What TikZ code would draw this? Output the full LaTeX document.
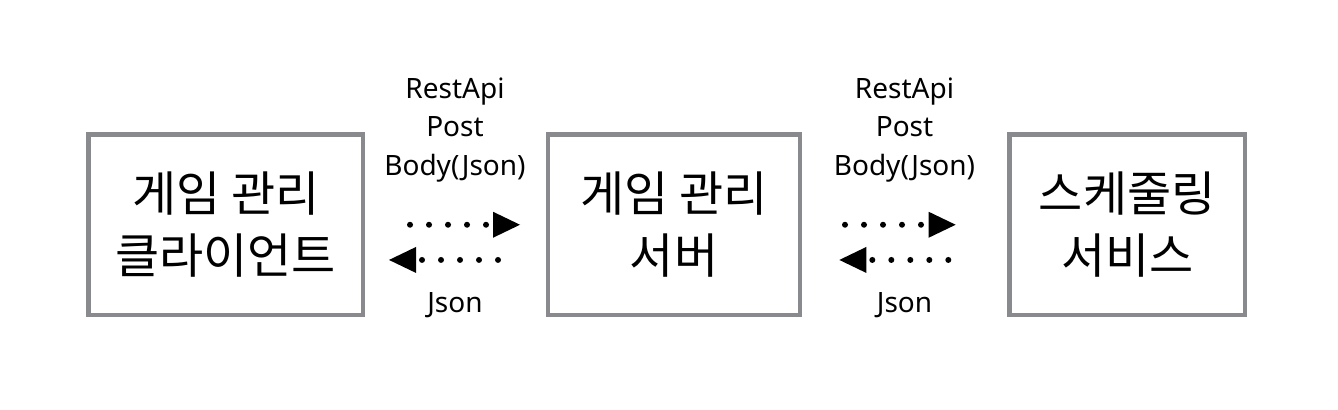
\documentclass[tikz,border=0pt]{standalone}
\usepackage{fontspec}
\setmainfont{Noto Sans}
\newfontfamily\kr{Noto Sans CJK KR}
\usetikzlibrary{arrows.meta}
\definecolor{boxgray}{RGB}{137,138,141}
\tikzset{bx/.style={draw=boxgray, line width=3.4pt, rectangle, outer sep=0pt, minimum height=135.4pt, align=center, font=\kr\fontsize{36pt}{46.5pt}\selectfont}}
\tikzset{lbl/.style={align=center, inner sep=0pt, font=\fontsize{21pt}{29pt}\selectfont}}
\tikzset{dt/.style={line width=4.5pt, line cap=round, dash pattern=on 0pt off 14.25pt, -{Triangle[length=20.25pt,width=19.5pt,line width=0pt]}}}

\begin{document}
\begin{tikzpicture}[x=0.75pt, y=-0.75pt]
\useasboundingbox (0,0) rectangle (1338,410);
\node[bx, minimum width=205.9pt] (client) at (225.75,224.75) {게임 관리\\클라이언트};
\node[bx, minimum width=189pt] (server) at (674,224.75) {게임 관리\\서버};
\node[bx, minimum width=176.6pt] (sched) at (1127.25,224.75) {스케줄링\\서비스};
\node[lbl] (req1) at (455,130) {RestApi\\Post\\Body(Json)};
\node[lbl] (res1) at (455,305) {Json};
\node[lbl] (req2) at (904.5,130) {RestApi\\Post\\Body(Json)};
\node[lbl] (res2) at (904.5,305) {Json};
\draw[dt, shorten <=35.25pt, shorten >=21pt] (client.east) -- (server.west);
\draw[dt, shorten <=37.5pt, shorten >=19.5pt] ([yshift=-26.4pt]server.west) -- ([yshift=-26.4pt]client.east);
\draw[dt, shorten <=33.75pt, shorten >=40.4pt] (server.east) -- (sched.west);
\draw[dt, shorten <=45.9pt, shorten >=29.5pt] ([yshift=-26.4pt]sched.west) -- ([yshift=-26.4pt]server.east);
\end{tikzpicture}
\end{document}
